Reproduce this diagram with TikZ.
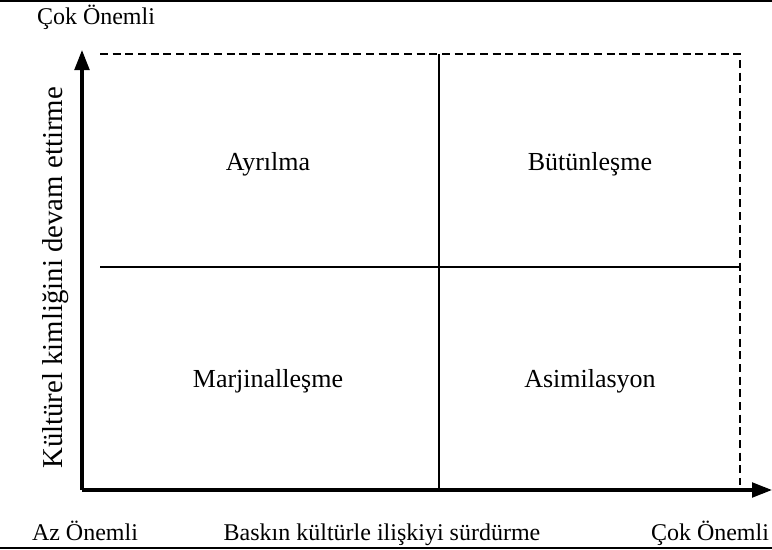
\documentclass[tikz,border=0pt]{standalone}
\usepackage{fontspec}
\setmainfont{Liberation Serif}
\usetikzlibrary{arrows.meta}

\tikzset{
  axis/.style={line width=2.4pt, -{Triangle[length=15pt,width=11pt]}},
  rule/.style={line width=1.5pt},
  grid/.style={line width=1.5pt},
  frame/.style={line width=1.5pt, dash pattern=on 6pt off 3.5pt},
  quad/.style={inner sep=0, anchor=base, font=\fontsize{19.5pt}{22pt}\selectfont},
  tick/.style={inner sep=0, anchor=base, font=\fontsize{18pt}{21pt}\selectfont},
  title/.style={inner sep=0, font=\fontsize{21.6pt}{25pt}\selectfont}
}

\begin{document}
\begin{tikzpicture}[x=0.75pt,y=-0.75pt]
\useasboundingbox (0,0) rectangle (772,550);

	% corners
	\coordinate (o) at (82,490);
	\coordinate (ytop) at (82,50);
	\coordinate (xend) at (772,490);
	\coordinate (tl) at (100,54);
	\coordinate (tr) at (740,54);
	\coordinate (br) at (740,485);
	\coordinate (ml) at (100,267);
	\coordinate (mr) at (740,267);
	\coordinate (mt) at (439,54);
	\coordinate (mb) at (439,490);

	% border
	\draw [rule] (0,1) -- (772,1);
	\draw [rule] (0,548) -- (772,548);

	% axes
	\draw [axis] (o) -- (ytop);
	\draw [axis] (o) -- (xend);

	% frame
	\draw [frame] (tl) -- (tr) -- (br);
	\draw [grid] (ml) -- (mr);
	\draw [grid] (mt) -- (mb);

	% label
	\node [tick] (ctop) at (96,24) {Çok Önemli};
	\node [tick] (az) at (85,540) {Az Önemli};
	\node [tick] (cok) at (710,540) {Çok Önemli};
	\node [tick] (xlab) at (382,540) {Baskın kültürle ilişkiyi sürdürme};
	\node [title, rotate=90, anchor=base] (ylab) at (62,278) {Kültürel kimliğini devam ettirme};

	\node [quad] (ayr) at (268,170) {Ayrılma};
	\node [quad] (but) at (590,170) {Bütünleşme};
	\node [quad] (mar) at (268,387) {Marjinalleşme};
	\node [quad] (asi) at (590,387) {Asimilasyon};
\end{tikzpicture}
\end{document}
